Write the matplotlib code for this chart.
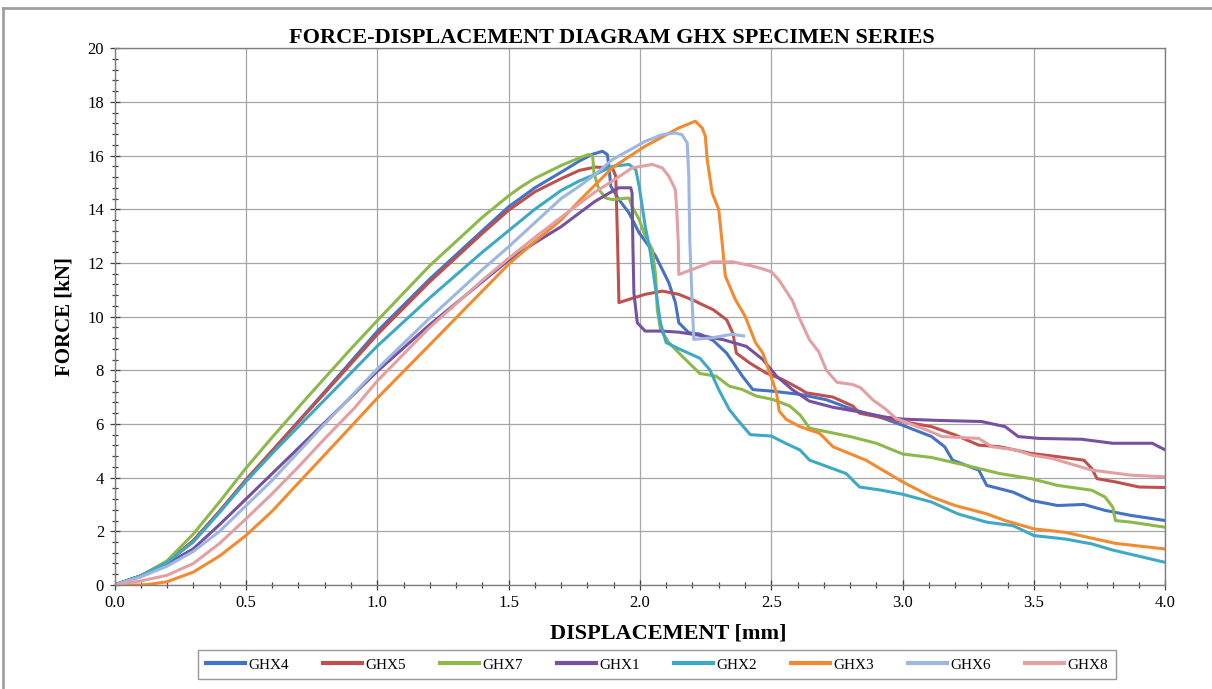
"""Force-displacement diagram, GHX specimen series."""

import matplotlib
matplotlib.use("Agg")
import matplotlib.pyplot as plt
from matplotlib.ticker import MultipleLocator
from matplotlib.lines import Line2D

# displacement [mm] / force [kN]
ghx4_x = [0, 0.1, 0.2, 0.3, 0.4, 0.5, 0.6, 0.8, 1.0, 1.2, 1.4, 1.5, 1.6, 1.7, 1.77, 1.82, 1.857,
          1.876, 1.882, 1.889, 1.92, 1.958, 1.997, 2.034, 2.06, 2.11, 2.135, 2.148, 2.186, 2.228,
          2.28, 2.33, 2.39, 2.43, 2.506, 2.61, 2.71, 2.81, 2.9, 3.0, 3.11, 3.16, 3.19, 3.29, 3.32,
          3.42, 3.49, 3.59, 3.69, 3.77, 3.87, 4.0]
ghx4_y = [0, 0.34, 0.84, 1.65, 2.75, 3.9, 5.0, 7.2, 9.45, 11.4, 13.2, 14.09, 14.8, 15.38, 15.8,
          16.05, 16.16, 16.04, 15.6, 14.86, 14.36, 13.87, 13.12, 12.63, 12.25, 11.26, 10.52, 9.77,
          9.4, 9.35, 9.1, 8.64, 7.78, 7.28, 7.22, 7.1, 6.9, 6.54, 6.3, 5.95, 5.53, 5.15, 4.65,
          4.28, 3.71, 3.46, 3.15, 2.96, 3.0, 2.78, 2.59, 2.4]

ghx5_x = [0, 0.1, 0.2, 0.3, 0.4, 0.5, 0.6, 0.8, 1.0, 1.2, 1.4, 1.5, 1.6, 1.7, 1.77, 1.83, 1.895,
          1.908, 1.915, 1.92, 1.958, 2.02, 2.085, 2.148, 2.21, 2.228, 2.28, 2.33, 2.354, 2.367,
          2.418, 2.48, 2.544, 2.61, 2.633, 2.735, 2.81, 2.836, 2.86, 2.937, 3.0, 3.11, 3.2, 3.29,
          3.37, 3.49, 3.59, 3.69, 3.72, 3.74, 3.81, 3.9, 4.0]
ghx5_y = [0, 0.34, 0.84, 1.65, 2.75, 3.92, 5.0, 7.15, 9.33, 11.3, 13.1, 13.96, 14.65, 15.14,
          15.45, 15.57, 15.54, 15.23, 12.75, 10.52, 10.64, 10.83, 10.95, 10.83, 10.58, 10.49,
          10.25, 9.88, 9.38, 8.64, 8.27, 7.9, 7.65, 7.3, 7.16, 7.0, 6.67, 6.4, 6.35, 6.21, 6.09,
          5.9, 5.59, 5.21, 5.15, 4.9, 4.78, 4.65, 4.34, 3.96, 3.84, 3.65, 3.63]

ghx7_x = [0, 0.1, 0.2, 0.3, 0.4, 0.5, 0.6, 0.73, 0.9, 1.0, 1.2, 1.4, 1.5, 1.55, 1.6, 1.7,
          1.768, 1.806, 1.82, 1.825, 1.844, 1.87, 1.895, 1.958, 1.97, 1.997, 2.02, 2.047, 2.06,
          2.066, 2.078, 2.11, 2.16, 2.228, 2.29, 2.34, 2.39, 2.443, 2.506, 2.57, 2.609, 2.646,
          2.8, 2.9, 3.0, 3.11, 3.24, 3.37, 3.49, 3.59, 3.72, 3.77, 3.8, 3.81, 3.87, 4.0]
ghx7_y = [0, 0.34, 0.9, 1.9, 3.1, 4.35, 5.5, 6.95, 8.8, 9.85, 11.9, 13.7, 14.5, 14.85, 15.15,
          15.63, 15.91, 16.04, 15.98, 15.35, 14.73, 14.42, 14.36, 14.42, 14.11, 13.62, 13.0, 12.5,
          11.51, 10.27, 9.52, 9.03, 8.53, 7.88, 7.78, 7.41, 7.28, 7.04, 6.91, 6.67, 6.34, 5.84,
          5.53, 5.28, 4.88, 4.75, 4.46, 4.15, 3.96, 3.71, 3.53, 3.28, 2.9, 2.4, 2.34, 2.15]

ghx1_x = [0, 0.1, 0.2, 0.3, 0.4, 0.5, 0.6, 0.8, 1.0, 1.2, 1.4, 1.5, 1.6, 1.7, 1.768, 1.83,
          1.895, 1.92, 1.965, 1.97, 1.973, 1.977, 1.99, 2.02, 2.085, 2.148, 2.228, 2.317, 2.405,
          2.468, 2.52, 2.58, 2.645, 2.735, 2.835, 2.937, 3.0, 3.14, 3.3, 3.39, 3.44, 3.52, 3.68,
          3.8, 3.95, 4.0]
ghx1_y = [0, 0.34, 0.78, 1.35, 2.25, 3.2, 4.15, 6.05, 7.96, 9.7, 11.3, 12.1, 12.75, 13.35, 13.85,
          14.3, 14.67, 14.8, 14.8, 14.61, 12.75, 10.89, 9.77, 9.46, 9.46, 9.42, 9.3, 9.14, 8.89,
          8.4, 7.78, 7.28, 6.85, 6.62, 6.45, 6.25, 6.18, 6.13, 6.09, 5.9, 5.53, 5.46, 5.43, 5.28,
          5.28, 5.03]

ghx2_x = [0, 0.1, 0.2, 0.3, 0.4, 0.5, 0.6, 0.8, 1.0, 1.2, 1.4, 1.5, 1.6, 1.7, 1.768, 1.83,
          1.895, 1.958, 1.984, 1.997, 2.02, 2.04, 2.06, 2.078, 2.1, 2.148, 2.228, 2.266, 2.3, 2.34,
          2.37, 2.42, 2.5, 2.55, 2.609, 2.646, 2.785, 2.836, 2.92, 3.0, 3.11, 3.21, 3.32, 3.42,
          3.5, 3.62, 3.72, 3.8, 4.0]
ghx2_y = [0, 0.34, 0.84, 1.6, 2.7, 3.85, 4.9, 6.9, 8.9, 10.7, 12.4, 13.2, 14.0, 14.7, 15.05,
          15.3, 15.6, 15.67, 15.48, 14.86, 13.37, 12.38, 11.01, 9.77, 9.03, 8.8, 8.45, 8.02, 7.28,
          6.54, 6.17, 5.6, 5.55, 5.3, 5.03, 4.65, 4.15, 3.65, 3.53, 3.38, 3.09, 2.65, 2.34, 2.21,
          1.84, 1.71, 1.53, 1.3, 0.84]

ghx3_x = [0, 0.1, 0.13, 0.2, 0.3, 0.4, 0.5, 0.6, 0.7, 0.8, 0.9, 1.0, 1.2, 1.4, 1.5, 1.6, 1.7,
          1.768, 1.895, 2.02, 2.148, 2.211, 2.237, 2.249, 2.256, 2.275, 2.3, 2.313, 2.325, 2.363,
          2.4, 2.44, 2.468, 2.494, 2.52, 2.53, 2.557, 2.609, 2.684, 2.735, 2.86, 3.0, 3.11, 3.2,
          3.32, 3.39, 3.5, 3.62, 3.81, 4.0]
ghx3_y = [0, 0, 0.02, 0.12, 0.48, 1.08, 1.84, 2.75, 3.8, 4.85, 5.9, 6.96, 8.95, 10.95, 11.95,
          12.8, 13.6, 14.3, 15.55, 16.35, 17.03, 17.28, 17.03, 16.72, 15.85, 14.61, 13.99, 12.75,
          11.51, 10.64, 10.02, 9.03, 8.64, 7.9, 7.16, 6.48, 6.17, 5.9, 5.65, 5.15, 4.65, 3.84,
          3.28, 2.96, 2.65, 2.4, 2.09, 1.96, 1.55, 1.34]

ghx6_x = [0, 0.1, 0.2, 0.3, 0.4, 0.5, 0.6, 0.8, 1.0, 1.2, 1.4, 1.5, 1.6, 1.7, 1.768, 1.83,
          1.895, 2.02, 2.085, 2.135, 2.16, 2.18, 2.186, 2.19, 2.2, 2.205, 2.275, 2.35, 2.395]
ghx6_y = [0, 0.3, 0.7, 1.25, 2.0, 2.95, 3.9, 6.0, 8.05, 9.95, 11.75, 12.6, 13.5, 14.4, 14.85,
          15.3, 15.85, 16.53, 16.78, 16.84, 16.78, 16.47, 15.23, 12.75, 10.27, 9.15, 9.21, 9.34,
          9.28]

ghx8_x = [0, 0.1, 0.2, 0.3, 0.4, 0.5, 0.6, 0.7, 0.8, 0.914, 1.0, 1.2, 1.4, 1.5, 1.6, 1.7,
          1.768, 1.83, 1.895, 1.97, 2.047, 2.085, 2.11, 2.135, 2.14, 2.146, 2.148, 2.2, 2.275,
          2.354, 2.42, 2.46, 2.5, 2.53, 2.58, 2.61, 2.645, 2.68, 2.71, 2.75, 2.81, 2.84, 2.886,
          2.937, 2.975, 3.09, 3.15, 3.29, 3.34, 3.43, 3.49, 3.57, 3.72, 3.87, 4.0]
ghx8_y = [0, 0.15, 0.36, 0.8, 1.55, 2.46, 3.4, 4.4, 5.45, 6.6, 7.6, 9.6, 11.35, 12.17, 12.95,
          13.7, 14.2, 14.65, 15.05, 15.54, 15.67, 15.54, 15.23, 14.73, 13.99, 12.75, 11.57, 11.76,
          12.04, 12.04, 11.9, 11.8, 11.67, 11.35, 10.6, 9.88, 9.14, 8.7, 8.0, 7.55, 7.47, 7.35,
          6.9, 6.54, 6.2, 5.78, 5.53, 5.46, 5.15, 5.03, 4.84, 4.71, 4.28, 4.09, 4.03]

names = ["GHX4", "GHX5", "GHX7", "GHX1", "GHX2", "GHX3", "GHX6", "GHX8"]
series_x = [ghx4_x, ghx5_x, ghx7_x, ghx1_x, ghx2_x, ghx3_x, ghx6_x, ghx8_x]
series_y = [ghx4_y, ghx5_y, ghx7_y, ghx1_y, ghx2_y, ghx3_y, ghx6_y, ghx8_y]
colors = ["#4472C4", "#C0504D", "#8DB84A", "#7651A0", "#3EA9C4", "#F28A30", "#9DB7E0", "#E2A0A2"]

serif = "Liberation Serif"


def main():
    fig = plt.figure(figsize=(12.12, 6.89), dpi=100)
    ax = fig.add_axes([0.0945, 0.151, 0.867, 0.779])

    for xs, ys, name, col in zip(series_x, series_y, names, colors):
        ax.plot(xs, ys, color=col, lw=2.2, label=name, solid_joinstyle="round")

    ax.set_xlim(0, 4)
    ax.set_ylim(0, 20)
    ax.xaxis.set_major_locator(MultipleLocator(0.5))
    ax.xaxis.set_minor_locator(MultipleLocator(0.1))
    ax.yaxis.set_major_locator(MultipleLocator(2))
    ax.yaxis.set_minor_locator(MultipleLocator(0.4))
    ax.xaxis.set_major_formatter(plt.FuncFormatter(lambda v, p: f"{v:.1f}"))
    ax.grid(True, which="major", color="#A6A6A6", lw=0.9)
    ax.set_axisbelow(True)
    ax.tick_params(which="both", direction="inout", color="#404040", width=0.9)
    ax.tick_params(which="major", length=7, labelsize=12, pad=4)
    ax.tick_params(which="minor", length=5)
    for lab in ax.get_xticklabels() + ax.get_yticklabels():
        lab.set_fontfamily(serif)
    for side, sp in ax.spines.items():
        sp.set_color("#7F7F7F")
        sp.set_linewidth(1.0)

    fig.text(0.5045, 0.945, "FORCE-DISPLACEMENT DIAGRAM GHX SPECIMEN SERIES",
             ha="center", va="center", fontsize=16, fontweight="bold", fontfamily=serif)
    fig.text(0.551, 0.081, "DISPLACEMENT [mm]", ha="center", va="center",
             fontsize=16, fontweight="bold", fontfamily=serif)
    fig.text(0.0535, 0.541, "FORCE [kN]", ha="center", va="center", rotation=90,
             fontsize=15, fontweight="bold", fontfamily=serif)

    handles = [Line2D([], [], color=c, lw=3) for c in colors]
    leg = fig.legend(handles, names, loc="center", bbox_to_anchor=(0.542, 0.035), ncol=8,
                     frameon=True, fancybox=False, edgecolor="#7F7F7F",
                     prop={"family": serif, "size": 11}, handlelength=2.6,
                     handletextpad=0.2, columnspacing=2.2, borderpad=0.5)
    leg.get_frame().set_linewidth(1.0)

    # outer chart border (top and left visible in the original)
    fig.add_artist(Line2D([0.0025, 0.0025], [0.0, 0.988], color="#A0A0A0", lw=2,
                          transform=fig.transFigure))
    fig.add_artist(Line2D([0.0025, 1.0], [0.988, 0.988], color="#A0A0A0", lw=2,
                          transform=fig.transFigure))

    fig.savefig("out.png", dpi=100)


if __name__ == "__main__":
    main()
